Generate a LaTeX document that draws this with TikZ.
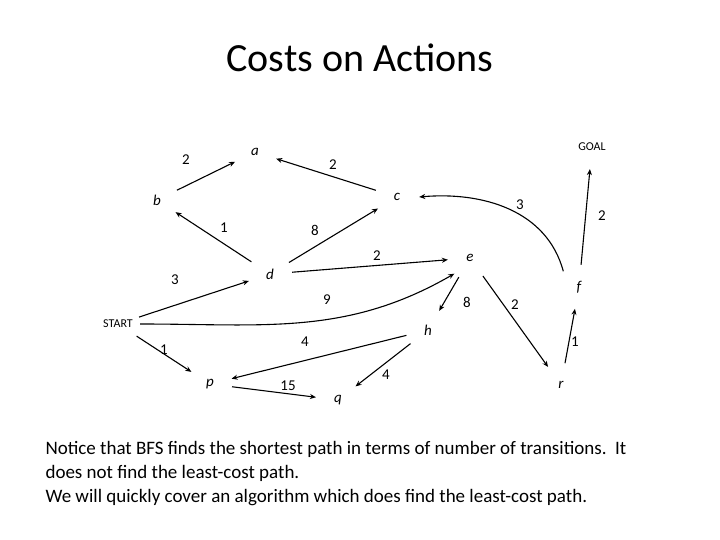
\documentclass[tikz,border=0pt]{standalone}
\usepackage{fontspec}
\setmainfont{Carlito}
\usetikzlibrary{arrows.meta}
\begin{document}
\begin{tikzpicture}[x=1pt,y=-1pt,
  st/.style={circle,draw=none,minimum size=44pt,inner sep=0pt,font=\fontsize{15}{15}\selectfont\itshape},
  e/.style={-{Stealth[length=6pt,width=5pt]},line width=1.1pt},
  w/.style={font=\fontsize{15}{15}\selectfont}]
\useasboundingbox (0,0) rectangle (720,540);
\node[font=\fontsize{40}{42}\selectfont] (title) at (360,58) {Costs on Actions};
\node[st] (a) at (255,152) {a};
\node[st,font=\fontsize{12}{12}\selectfont] (g) at (592,147) {GOAL};
\node[st] (b) at (157,200) {b};
\node[st] (c) at (397,197) {c};
\node[st] (d) at (270,274) {d};
\node[st] (e) at (470,258) {e};
\node[st] (f) at (579,287) {f};
\node[st,font=\fontsize{12}{12}\selectfont] (s) at (118,324) {START};
\node[st] (h) at (428,330) {h};
\node[st] (p) at (210,384) {p};
\node[st] (q) at (338,400) {q};
\node[st] (r) at (561,385) {r};
\draw[e] (b) -- (a); \node[w] (l1) at (186,160) {2};
\draw[e] (c) -- (a); \node[w] (l2) at (333,165) {2};
\draw[e] (d) -- (b); \node[w] (l3) at (224,228) {1};
\draw[e] (d) -- (c); \node[w] (l4) at (315,230) {8};
\draw[e] (f.north west) to[out=105,in=5] (c.east); \node[w] (l5) at (520,205) {3};
\draw[e] (f) -- (g); \node[w] (l6) at (602,216) {2};
\draw[e] (d) -- (e); \node[w] (l7) at (377,256) {2};
\draw[e] (s) -- (d); \node[w] (l8) at (175,280) {3};
\draw[e] (s.east) to[out=0,in=210] (e.south west); \node[w] (l9) at (327,300) {9};
\draw[e] (e) -- (h); \node[w] (l10) at (467,302) {8};
\draw[e] (e) -- (r); \node[w] (l11) at (515,305) {2};
\draw[e] (h) -- (p); \node[w] (l12) at (305,342) {4};
\draw[e] (s) -- (p); \node[w] (l13) at (164,350) {1};
\draw[e] (r) -- (f); \node[w] (l14) at (575,342) {1};
\draw[e] (p) -- (q); \node[w] (l15) at (288,386) {15};
\draw[e] (h) -- (q); \node[w] (l16) at (386,375) {4};
\node[anchor=north west,align=left,font=\fontsize{19}{24}\selectfont] (txt) at (42,438)
{Notice that BFS finds the shortest path in terms of number of transitions.\ \ It\\
does not find the least-cost path.\\
We will quickly cover an algorithm which does find the least-cost path.};
\end{tikzpicture}
\end{document}
